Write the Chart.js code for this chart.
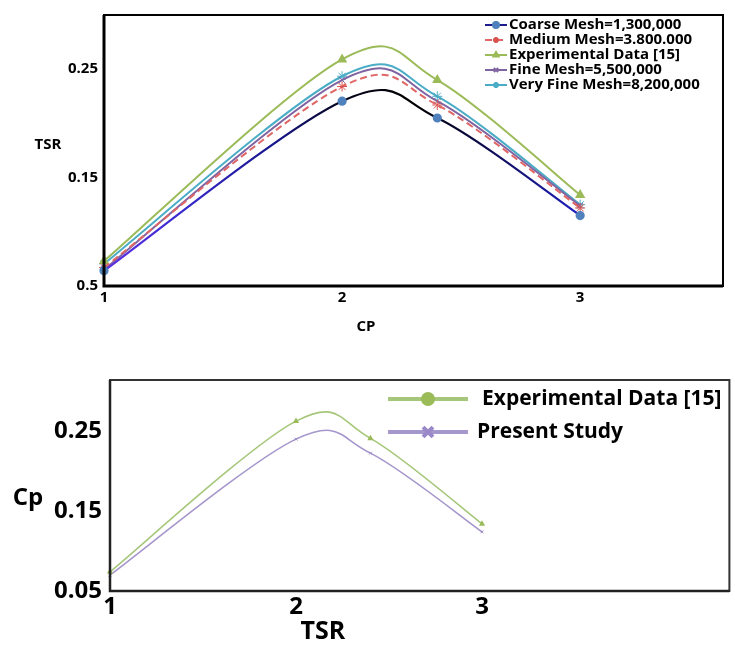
<!DOCTYPE html>
<html>
<head>
<meta charset="utf-8">
<script src="https://cdn.jsdelivr.net/npm/chart.js@4.4.0/dist/chart.umd.min.js"></script>
<style>
  body { margin: 0; background: #fff; width: 735px; height: 646px; position: relative; overflow: hidden; }
  canvas { position: absolute; left: 0; }
  #topChart { top: 0; }
  #bottomChart { top: 350px; }
</style>
</head>
<body>
<canvas id="topChart" width="735" height="350"></canvas>
<canvas id="bottomChart" width="735" height="296"></canvas>
<script>
// values
const tsr = [1, 2, 2.4, 3];
const coarseMesh = [0.064, 0.2205, 0.205, 0.115];
const mediumMesh = [0.067, 0.234, 0.217, 0.122];
const experimentalData = [0.073, 0.259, 0.240, 0.134];
const fineMesh = [0.065, 0.240, 0.2205, 0.124];
const veryFineMesh = [0.0705, 0.2435, 0.225, 0.125];
const experimentalData2 = [0.074, 0.2625, 0.241, 0.134];
const presentStudy = [0.070, 0.240, 0.2225, 0.124];

const xTicks = [1, 2, 3];
const yTicks = [0.05, 0.15, 0.25];
const yTickLabelsTop = ['0.5', '0.15', '0.25'];
const yTickLabelsBottom = ['0.05', '0.15', '0.25'];

const FONT = "'Open Sans', 'Liberation Sans', sans-serif";

const pts = ys => tsr.map((x, i) => ({ x, y: ys[i] }));

// spreadsheet-style smoothing: control points at 1/6 of the neighbour chord
const excelSmooth = {
  id: 'excelSmooth',
  beforeDatasetDraw(chart, args) {
    const meta = args.meta;
    const line = meta.dataset;
    if (!line) return;
    line.updateControlPoints(chart.chartArea, 'x');
    const p = meta.data;
    const n = p.length;
    for (let i = 0; i < n; i++) {
      const prev = p[Math.max(i - 1, 0)];
      const next = p[Math.min(i + 1, n - 1)];
      const dx = (next.x - prev.x) / 6, dy = (next.y - prev.y) / 6;
      p[i].cp1x = p[i].x - dx; p[i].cp1y = p[i].y - dy;
      p[i].cp2x = p[i].x + dx; p[i].cp2y = p[i].y + dy;
    }
  }
};

// draws the plot box and the free-standing axis titles
const framePlugin = {
  id: 'frame',
  afterDraw(chart, args, opts) {
    const ctx = chart.ctx;
    const { left, right, top, bottom } = chart.chartArea;
    ctx.save();
    ctx.strokeStyle = opts.color;
    ctx.lineWidth = opts.width;
    ctx.strokeRect(left, top, right - left, bottom - top);
    ctx.strokeStyle = opts.axisColor;
    ctx.lineWidth = opts.axisWidth;
    ctx.beginPath();
    ctx.moveTo(left, top); ctx.lineTo(left, bottom); ctx.lineTo(right, bottom);
    ctx.stroke();
    ctx.fillStyle = '#000';
    ctx.textAlign = 'center';
    ctx.textBaseline = 'middle';
    (opts.labels || []).forEach(l => {
      ctx.font = l.font;
      ctx.fillText(l.text, l.x, l.y);
    });
    ctx.restore();
  }
};

// legend drawn inside the plot area
const boxLegend = {
  id: 'boxLegend',
  afterDraw(chart, args, opts) {
    const ctx = chart.ctx;
    ctx.save();
    ctx.font = opts.font;
    ctx.textBaseline = 'middle';
    ctx.textAlign = 'left';
    chart.data.datasets.forEach((ds, i) => {
      const y = opts.y + i * opts.rowGap;
      ctx.strokeStyle = ds.legendColor || ds.borderColor;
      ctx.lineWidth = opts.lineWidth;
      ctx.setLineDash(ds.borderDash || []);
      ctx.beginPath();
      ctx.moveTo(opts.x, y);
      ctx.lineTo(opts.x + opts.sampleWidth, y);
      ctx.stroke();
      ctx.setLineDash([]);
      ctx.fillStyle = ds.pointBackgroundColor;
      ctx.strokeStyle = ds.pointBorderColor;
      Chart.helpers.drawPoint(ctx, {
        pointStyle: ds.legendPointStyle || ds.pointStyle, rotation: 0,
        radius: ds.legendRadius || opts.markerRadius,
        borderWidth: ds.legendBorder || opts.markerBorder
      }, opts.x + opts.sampleWidth / 2, y);
      ctx.fillStyle = '#000';
      const tx = opts.textX ? opts.textX[i] : opts.x + opts.sampleWidth + 2;
      ctx.fillText(ds.label, tx, y);
    });
    ctx.restore();
  }
};

function coarseGradient(ctx) {
  const a = ctx.chart.chartArea;
  if (!a) return '#1a1a8c';
  const g = ctx.chart.ctx.createLinearGradient(a.left, 0, a.right, 0);
  g.addColorStop(0, '#6030e0');
  g.addColorStop(0.12, '#3a2ad0');
  g.addColorStop(0.28, '#15158a');
  g.addColorStop(0.38, '#05051e');
  g.addColorStop(0.5, '#000000');
  g.addColorStop(0.6, '#0a0a44');
  g.addColorStop(0.77, '#2020c0');
  g.addColorStop(1, '#2020c0');
  return g;
}

new Chart(document.getElementById('topChart'), {
  type: 'line',
  data: {
    datasets: [
      {
        label: 'Coarse Mesh=1,300,000', data: pts(coarseMesh),
        borderColor: coarseGradient, legendColor: '#1c1c8c', borderWidth: 2.2,
        pointStyle: 'circle', pointRadius: 3.5,
        pointBackgroundColor: '#4f81bd', pointBorderColor: '#4f81bd'
      },
      {
        label: 'Medium Mesh=3.800.000', data: pts(mediumMesh),
        borderColor: '#e06666', borderWidth: 2, borderDash: [7, 4],
        pointStyle: 'star', pointRadius: 5, pointBorderWidth: 1,
        pointBackgroundColor: '#e06666', pointBorderColor: '#d9534f'
      },
      {
        label: 'Experimental Data [15]', data: pts(experimentalData),
        borderColor: '#9bbb59', borderWidth: 2,
        pointStyle: 'triangle', pointRadius: 4,
        pointBackgroundColor: '#9bbb59', pointBorderColor: '#9bbb59'
      },
      {
        label: 'Fine Mesh=5,500,000', data: pts(fineMesh),
        borderColor: '#8064a2', borderWidth: 2,
        pointStyle: 'crossRot', pointRadius: 4, pointBorderWidth: 1,
        pointBackgroundColor: '#8064a2', pointBorderColor: '#8064a2'
      },
      {
        label: 'Very Fine Mesh=8,200,000', data: pts(veryFineMesh),
        borderColor: '#4bacc6', borderWidth: 2,
        pointStyle: 'star', pointRadius: 5, pointBorderWidth: 1,
        pointBackgroundColor: '#4bacc6', pointBorderColor: '#4bacc6'
      }
    ]
  },
  options: {
    responsive: false,
    animation: false,
    devicePixelRatio: 1,
    layout: { padding: { top: 7, right: 12, left: 0, bottom: 0 } },
    elements: { line: { tension: 0.4 } },
    datasets: { line: { clip: false } },
    scales: {
      x: {
        type: 'linear', min: 1, max: 3.6,
        grid: { display: false, drawTicks: false }, border: { display: false },
        ticks: { color: '#000', padding: 3, font: { family: FONT, size: 15, weight: 'bold' } },
        afterBuildTicks: s => { s.ticks = xTicks.map(v => ({ value: v })); },
        afterFit: s => { s.height = 64; }
      },
      y: {
        min: 0.05, max: 0.3,
        grid: { display: false, drawTicks: false }, border: { display: false },
        ticks: {
          color: '#000', padding: 6, font: { family: FONT, size: 15, weight: 'bold' },
          callback: (v, i) => yTickLabelsTop[i]
        },
        afterBuildTicks: s => { s.ticks = yTicks.map(v => ({ value: v })); },
        afterFit: s => { s.width = 104; }
      }
    },
    plugins: {
      legend: { display: false },
      tooltip: { enabled: false },
      frame: {
        color: '#000', width: 2, axisColor: '#000', axisWidth: 3,
        labels: [
          { text: 'TSR', x: 48, y: 145, font: `bold 15px ${FONT}` },
          { text: 'CP', x: 366, y: 327, font: `bold 15px ${FONT}` }
        ]
      },
      boxLegend: {
        x: 485, y: 25, rowGap: 15, sampleWidth: 22, lineWidth: 2,
        markerRadius: 3, markerBorder: 1, font: `bold 15px ${FONT}`
      }
    }
  },
  plugins: [excelSmooth, framePlugin, boxLegend]
});

new Chart(document.getElementById('bottomChart'), {
  type: 'line',
  data: {
    datasets: [
      {
        label: 'Experimental Data [15]', data: pts(experimentalData2),
        borderColor: '#a6c77a', borderWidth: 1.6,
        pointStyle: 'triangle', pointRadius: 2,
        pointBackgroundColor: '#9bbb59', pointBorderColor: '#9bbb59',
        legendPointStyle: 'circle', legendRadius: 5, legendBorder: 1
      },
      {
        label: 'Present Study', data: pts(presentStudy),
        borderColor: '#a596cc', borderWidth: 1.6,
        pointStyle: 'crossRot', pointRadius: 2, pointBorderWidth: 1,
        pointBackgroundColor: '#a596cc', pointBorderColor: '#9a88c8',
        legendPointStyle: 'crossRot', legendRadius: 7, legendBorder: 4
      }
    ]
  },
  options: {
    responsive: false,
    animation: false,
    devicePixelRatio: 1,
    layout: { padding: { top: 30, right: 3, left: 0, bottom: 0 } },
    elements: { line: { tension: 0.4 } },
    datasets: { line: { clip: false } },
    scales: {
      x: {
        type: 'linear', min: 1, max: 4.33,
        grid: { display: false, drawTicks: false }, border: { display: false },
        ticks: { color: '#000', padding: 2, font: { family: FONT, size: 24, weight: 'bold' } },
        afterBuildTicks: s => { s.ticks = xTicks.map(v => ({ value: v })); },
        afterFit: s => { s.height = 55; }
      },
      y: {
        min: 0.05, max: 0.314,
        grid: { display: false, drawTicks: false }, border: { display: false },
        ticks: {
          color: '#000', padding: 8, font: { family: FONT, size: 24, weight: 'bold' },
          callback: (v, i) => yTickLabelsBottom[i]
        },
        afterBuildTicks: s => { s.ticks = yTicks.map(v => ({ value: v })); },
        afterFit: s => { s.width = 110; }
      }
    },
    plugins: {
      legend: { display: false },
      tooltip: { enabled: false },
      frame: {
        color: '#333', width: 2, axisColor: '#222', axisWidth: 2.5,
        labels: [
          { text: 'Cp', x: 28, y: 148, font: `bold 24px ${FONT}` },
          { text: 'TSR', x: 323, y: 282, font: `bold 25px ${FONT}` }
        ]
      },
      boxLegend: {
        x: 388, y: 49, rowGap: 33, sampleWidth: 80, lineWidth: 4,
        markerRadius: 6, markerBorder: 3, font: `bold 21px ${FONT}`,
        textX: [482, 477]
      }
    }
  },
  plugins: [excelSmooth, framePlugin, boxLegend]
});
</script>
</body>
</html>
